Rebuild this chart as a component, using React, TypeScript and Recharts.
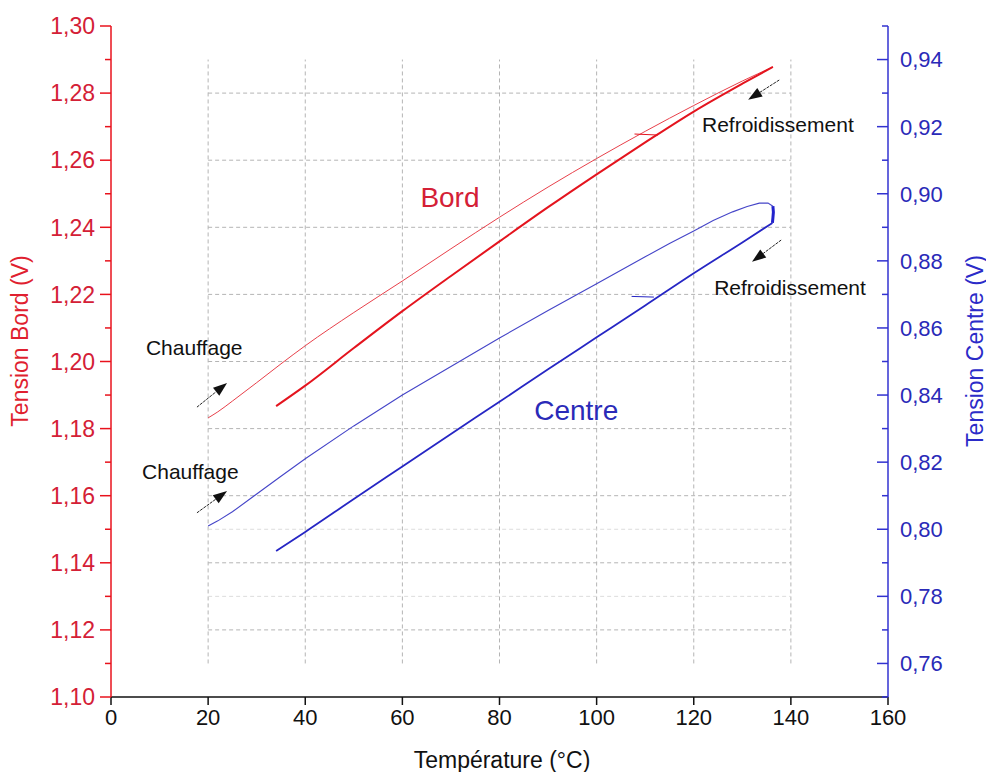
import React from 'react';
import { LineChart, Line, XAxis, YAxis, ReferenceLine, ReferenceDot } from 'recharts';

const FONT = '"Liberation Sans", Arial, Helvetica, sans-serif';

// Bord (edge) sensor, heating then cooling
const bordHeatT = [20, 22, 25, 30, 35, 40, 50, 60, 70, 80, 90, 100, 110, 120, 130, 136.3];
const bordHeatV = [1.1832, 1.185, 1.1882, 1.1937, 1.1993, 1.2047, 1.2146, 1.224, 1.2336, 1.243, 1.252, 1.2605, 1.2686, 1.2763, 1.2836, 1.2878];
const bordCoolT = [136.3, 130, 120, 110, 100, 90, 80, 70, 60, 50, 40, 34];
const bordCoolV = [1.2878, 1.2828, 1.2745, 1.2653, 1.2558, 1.246, 1.2358, 1.2255, 1.215, 1.204, 1.1928, 1.1867];
const bordMarkT = [107.8, 112.6];
const bordMarkV = [1.2678, 1.2675];

// Centre sensor, heating then cooling
const centreHeatT = [20, 22, 25, 30, 35, 40, 50, 60, 70, 80, 90, 100, 110, 115, 120, 124, 128, 131, 133.5, 135.3, 136.3];
const centreHeatV = [0.801, 0.8025, 0.8052, 0.8105, 0.8158, 0.821, 0.8308, 0.84, 0.8485, 0.857, 0.8652, 0.8732, 0.8812, 0.8852, 0.8889, 0.892, 0.8946, 0.8962, 0.8972, 0.8972, 0.8963];
const centreTurnT = [136.3, 136.4, 136.3, 136.2];
const centreTurnV = [0.8963, 0.8945, 0.8928, 0.8913];
const centreCoolT = [136.2, 130, 120, 110, 100, 90, 80, 70, 60, 50, 40, 34];
const centreCoolV = [0.8913, 0.8855, 0.8763, 0.8667, 0.8572, 0.8477, 0.838, 0.8284, 0.8187, 0.809, 0.7992, 0.7935];
const centreMarkT = [107.2, 111.8];
const centreMarkV = [0.8694, 0.8692];

const xTicks = [0, 20, 40, 60, 80, 100, 120, 140, 160];
const leftTicks = [1.1, 1.11, 1.12, 1.13, 1.14, 1.15, 1.16, 1.17, 1.18, 1.19, 1.2, 1.21, 1.22, 1.23, 1.24, 1.25, 1.26, 1.27, 1.28, 1.29, 1.3];
const rightTicks = [0.75, 0.76, 0.77, 0.78, 0.79, 0.8, 0.81, 0.82, 0.83, 0.84, 0.85, 0.86, 0.87, 0.88, 0.89, 0.9, 0.91, 0.92, 0.93, 0.94, 0.95];

const gridX = [20, 40, 60, 80, 100, 120, 140];
const gridY = [1.12, 1.14, 1.16, 1.18, 1.2, 1.22, 1.24, 1.26, 1.28];
const gridYFaint = [1.13, 1.15];

const pts = (t: number[], v: number[]) => t.map((x, i) => ({ t: x, v: v[i] }));

const RED_AXIS = '#e8121c';
const RED_TEXT = '#d42036';
const BLUE_AXIS = '#3232d0';
const BLUE_TEXT = '#2a2ab8';

const isMajor = (v: number) => Math.round(v * 100) % 2 === 0;
const fmt = (v: number) => v.toFixed(2).replace('.', ',');

const LeftTick = (props: any) => {
  const { x, y, payload } = props;
  const major = isMajor(payload.value);
  return (
    <g>
      <line x1={x} x2={x - (major ? 11 : 6)} y1={y} y2={y} stroke={RED_AXIS} strokeWidth={1.5} />
      {major && (
        <text x={x - 16} y={y} dy="0.36em" textAnchor="end" fontSize={23} fill={RED_TEXT} fontFamily={FONT}>
          {fmt(payload.value)}
        </text>
      )}
    </g>
  );
};

const RightTick = (props: any) => {
  const { x, y, payload } = props;
  const major = isMajor(payload.value);
  return (
    <g>
      <line x1={x} x2={x - (major ? 11 : 6)} y1={y} y2={y} stroke={BLUE_AXIS} strokeWidth={1.5} />
      {major && (
        <text x={x + 12} y={y} dy="0.36em" textAnchor="start" fontSize={22} fill={BLUE_TEXT} fontFamily={FONT}>
          {fmt(payload.value)}
        </text>
      )}
    </g>
  );
};

const Arrow = (p: any) => {
  const { x1, y1, x2, y2 } = p;
  const ang = Math.atan2(y2 - y1, x2 - x1);
  const L = 14;
  const W = 5;
  const bx = x2 - L * Math.cos(ang);
  const by = y2 - L * Math.sin(ang);
  const nx = -Math.sin(ang) * W;
  const ny = Math.cos(ang) * W;
  return (
    <g>
      <line x1={x1} y1={y1} x2={bx} y2={by} stroke="#222" strokeWidth={1} strokeDasharray="3 1" />
      <polygon points={`${x2},${y2} ${bx + nx},${by + ny} ${bx - nx},${by - ny}`} fill="#111" />
    </g>
  );
};

const textShape = (label: string, size: number, color: string, anchor: 'start' | 'middle') => (p: any) => (
  <text x={p.cx} y={p.cy} dy="0.36em" textAnchor={anchor} fontSize={size} fill={color} fontFamily={FONT}>
    {label}
  </text>
);

const arrows = [
  { a: { x: 17.7, y: 1.1864 }, b: { x: 23.9, y: 1.1936 } },
  { a: { x: 17.7, y: 1.1549 }, b: { x: 23.9, y: 1.1614 } },
  { a: { x: 137.6, y: 1.2839 }, b: { x: 131.2, y: 1.278 } },
  { a: { x: 138, y: 1.2362 }, b: { x: 132, y: 1.2297 } },
];

export default function App() {
  return (
    <div style={{ position: 'absolute', left: 0, top: 0, width: 986, height: 772, background: '#fff', fontFamily: FONT }}>
      <LineChart width={986} height={772} margin={{ top: 26, right: 38, bottom: 30, left: 30 }}>
        <XAxis
          type="number"
          dataKey="t"
          domain={[0, 160]}
          ticks={xTicks}
          allowDataOverflow
          height={45}
          stroke="#111"
          axisLine={{ stroke: '#111', strokeWidth: 1.5 }}
          tickLine={{ stroke: '#111', strokeWidth: 1.5 }}
          tickSize={8}
          tickMargin={4}
          tick={{ fontSize: 22, fill: '#111', fontFamily: FONT }}
        />
        <YAxis
          yAxisId="left"
          type="number"
          domain={[1.1, 1.3]}
          ticks={leftTicks}
          interval={0}
          allowDataOverflow
          width={81}
          tickSize={0}
          tickMargin={0}
          tickLine={false}
          axisLine={{ stroke: RED_AXIS, strokeWidth: 1.5 }}
          tick={<LeftTick />}
        />
        <YAxis
          yAxisId="right"
          orientation="right"
          type="number"
          domain={[0.75, 0.95]}
          ticks={rightTicks}
          interval={0}
          allowDataOverflow
          width={60}
          tickSize={0}
          tickMargin={0}
          tickLine={false}
          axisLine={{ stroke: BLUE_AXIS, strokeWidth: 1.5 }}
          tick={<RightTick />}
        />

        {gridX.map((gx) => (
          <ReferenceLine
            key={`gx${gx}`}
            yAxisId="left"
            segment={[{ x: gx, y: 1.11 }, { x: gx, y: 1.29 }]}
            stroke="#b4b4b4"
            strokeDasharray="4 3"
          />
        ))}
        {gridY.map((gy) => (
          <ReferenceLine
            key={`gy${gy}`}
            yAxisId="left"
            segment={[{ x: 20, y: gy }, { x: 140, y: gy }]}
            stroke="#b4b4b4"
            strokeDasharray="4 3"
          />
        ))}
        {gridYFaint.map((gy) => (
          <ReferenceLine
            key={`gf${gy}`}
            yAxisId="left"
            segment={[{ x: 20, y: gy }, { x: 140, y: gy }]}
            stroke="#dcdcdc"
            strokeDasharray="4 3"
          />
        ))}

        <Line yAxisId="left" data={pts(bordHeatT, bordHeatV)} dataKey="v" type="monotone" stroke="#e8404a" strokeWidth={1} dot={false} isAnimationActive={false} />
        <Line yAxisId="left" data={pts(bordCoolT, bordCoolV)} dataKey="v" type="monotone" stroke="#e4141e" strokeWidth={2} dot={false} isAnimationActive={false} />
        <Line yAxisId="left" data={pts(bordMarkT, bordMarkV)} dataKey="v" type="linear" stroke="#e4141e" strokeWidth={1} dot={false} isAnimationActive={false} />

        <Line yAxisId="right" data={pts(centreHeatT, centreHeatV)} dataKey="v" type="linear" stroke="#4545c8" strokeWidth={1.1} dot={false} isAnimationActive={false} />
        <Line yAxisId="right" data={pts(centreTurnT, centreTurnV)} dataKey="v" type="linear" stroke="#2222cc" strokeWidth={3} dot={false} isAnimationActive={false} />
        <Line yAxisId="right" data={pts(centreCoolT, centreCoolV)} dataKey="v" type="monotone" stroke="#2626c4" strokeWidth={1.8} dot={false} isAnimationActive={false} />
        <Line yAxisId="right" data={pts(centreMarkT, centreMarkV)} dataKey="v" type="linear" stroke="#2626c4" strokeWidth={1} dot={false} isAnimationActive={false} />

        {arrows.map((ar, i) => (
          <ReferenceLine key={`ar${i}`} yAxisId="left" segment={[ar.a, ar.b]} shape={Arrow} />
        ))}

        <ReferenceDot yAxisId="left" x={69.8} y={1.249} r={0} shape={textShape('Bord', 28, RED_TEXT, 'middle')} />
        <ReferenceDot yAxisId="left" x={95.8} y={1.1856} r={0} shape={textShape('Centre', 28, BLUE_TEXT, 'middle')} />
        <ReferenceDot yAxisId="left" x={7.2} y={1.2043} r={0} shape={textShape('Chauffage', 21, '#111', 'start')} />
        <ReferenceDot yAxisId="left" x={6.4} y={1.1671} r={0} shape={textShape('Chauffage', 21, '#111', 'start')} />
        <ReferenceDot yAxisId="left" x={121.7} y={1.2708} r={0} shape={textShape('Refroidissement', 21, '#111', 'start')} />
        <ReferenceDot yAxisId="left" x={124.2} y={1.2222} r={0} shape={textShape('Refroidissement', 21, '#111', 'start')} />
      </LineChart>

      <div style={{ position: 'absolute', left: 20, top: 341, transform: 'translate(-50%, -50%) rotate(-90deg)', whiteSpace: 'nowrap', fontSize: 23, color: '#e01f30' }}>
        Tension Bord (V)
      </div>
      <div style={{ position: 'absolute', left: 975, top: 351, transform: 'translate(-50%, -50%) rotate(-90deg)', whiteSpace: 'nowrap', fontSize: 23, color: '#2b2bc8' }}>
        Tension Centre (V)
      </div>
      <div style={{ position: 'absolute', left: 502, top: 760, transform: 'translate(-50%, -50%)', whiteSpace: 'nowrap', fontSize: 23, color: '#111' }}>
        Température (°C)
      </div>
    </div>
  );
}
